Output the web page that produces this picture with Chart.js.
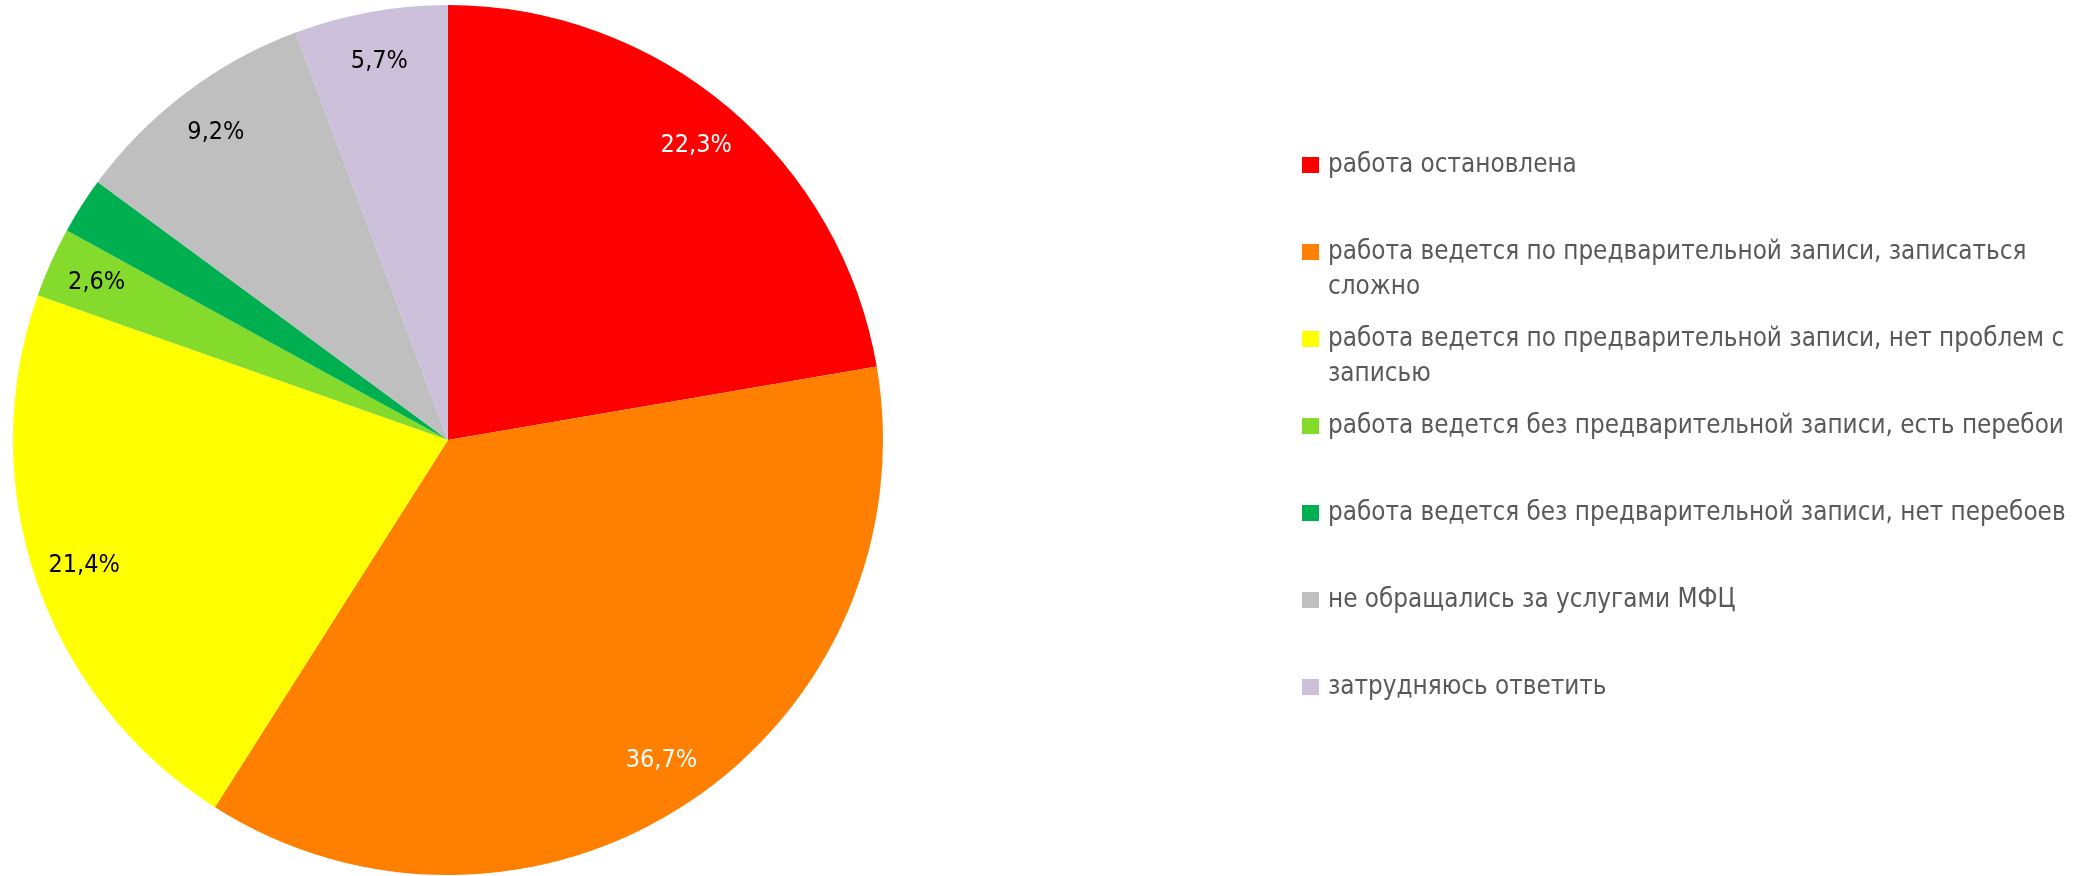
<!DOCTYPE html>
<html lang="ru">
<head>
<meta charset="UTF-8" />
<title>Работа МФЦ</title>
<script src="https://cdn.jsdelivr.net/npm/chart.js"></script>
<style>
  html, body { margin: 0; padding: 0; background: #fff; }
  #wrap { width: 2099px; height: 876px; position: relative; }
</style>
</head>
<body>
<div id="wrap"><canvas id="myChart"></canvas></div>
<script>
// категории (подписи легенды, уже разбитые по строкам)
const labels = [
  ["работа остановлена"],
  ["работа ведется по предварительной записи, записаться", "сложно"],
  ["работа ведется по предварительной записи, нет проблем с", "записью"],
  ["работа ведется без предварительной записи, есть перебои"],
  ["работа ведется без предварительной записи, нет перебоев"],
  ["не обращались за услугами МФЦ"],
  ["затрудняюсь ответить"]
];
// доли, %
const values = [22.3, 36.7, 21.4, 2.6, 2.1, 9.2, 5.7];
const colors = ["#FF0000", "#FF8000", "#FFFF00", "#84DB2C", "#00B050", "#BFBFBF", "#CCC0DA"];
const valueColors = ["#FFFFFF", "#FFFFFF", "#000000", "#000000", "#000000", "#000000", "#000000"];
const showValue = [true, true, true, true, false, true, true];

const FONT = '"DejaVu Sans Condensed", sans-serif';

const valueLabels = {
  id: "valueLabels",
  afterDatasetsDraw(chart) {
    const ctx = chart.ctx;
    const meta = chart.getDatasetMeta(0);
    ctx.save();
    ctx.font = "25px " + FONT;
    ctx.textAlign = "center";
    ctx.textBaseline = "middle";
    meta.data.forEach((arc, i) => {
      if (!showValue[i]) return;
      const p = arc.getProps(["x", "y", "startAngle", "endAngle", "outerRadius"], true);
      const mid = (p.startAngle + p.endAngle) / 2;
      const r = p.outerRadius * 0.885;
      ctx.fillStyle = valueColors[i];
      ctx.fillText(values[i].toFixed(1).replace(".", ",") + "%",
        p.x + Math.cos(mid) * r, p.y + Math.sin(mid) * r);
    });
    ctx.restore();
  }
};

// легенда справа, как в Excel
const sideLegend = {
  id: "sideLegend",
  afterDraw(chart) {
    const ctx = chart.ctx;
    ctx.save();
    ctx.font = "25.8px " + FONT;
    ctx.textBaseline = "middle";
    labels.forEach((lines, i) => {
      const y = 165 + i * 87;
      ctx.fillStyle = colors[i];
      ctx.fillRect(1302, y - 8, 17, 16);
      ctx.fillStyle = "#595959";
      lines.forEach((t, j) => ctx.fillText(t, 1328, y + j * 35));
    });
    ctx.restore();
  }
};

new Chart(document.getElementById("myChart"), {
  type: "pie",
  data: {
    labels: labels,
    datasets: [{
      data: values,
      backgroundColor: colors,
      borderWidth: 0
    }]
  },
  options: {
    responsive: true,
    maintainAspectRatio: false,
    animation: false,
    layout: { padding: { left: 13, right: 1216, top: 5, bottom: 1 } },
    plugins: {
      legend: { display: false },
      tooltip: { enabled: false }
    }
  },
  plugins: [valueLabels, sideLegend]
});
</script>
</body>
</html>
